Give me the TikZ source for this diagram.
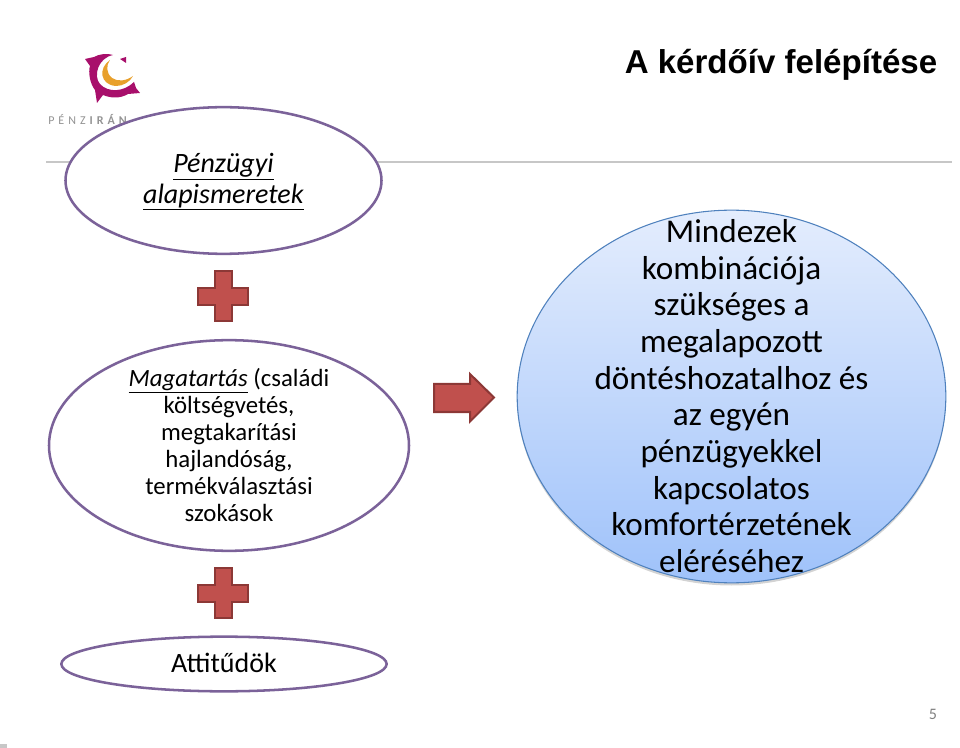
\documentclass[tikz,border=0pt]{standalone}
\usepackage{fontspec}
\setmainfont{Carlito}
\newfontfamily\titlefont{Liberation Sans}
\usetikzlibrary{shapes.geometric, shadows}
\definecolor{ovalline}{HTML}{7B6299}
\definecolor{plusfill}{HTML}{C0504D}
\definecolor{plusline}{HTML}{8C3836}
\definecolor{bigline}{HTML}{4F81BD}
\definecolor{bigtop}{HTML}{E4EDFD}
\definecolor{bigbottom}{HTML}{9FC2FA}
\definecolor{logomag}{HTML}{A80F6B}
\definecolor{logoorg}{HTML}{E8A02C}
\tikzset{
  oval/.style={ellipse, draw=ovalline, line width=1.9pt, fill=white, inner sep=0pt, align=center, text=black},
  redmark/.style={fill=plusfill, draw=plusline, line width=1.5pt, line join=miter}
}
\begin{document}
\begin{tikzpicture}[x=0.75pt,y=-0.75pt]
\useasboundingbox (0,0) rectangle (960,748);

% logo
\fill [logomag] (85,59) -- (94,57) .. controls (99,54) and (107,53) .. (113,55)
  .. controls (98,58) and (93,76) .. (100,84) .. controls (108,93) and (124,92) .. (134,82)
  -- (136,88) -- (140,93) -- (128,94)
  .. controls (120,99) and (110,98) .. (103,95) -- (97,103) -- (95,90)
  .. controls (90,84) and (88,72) .. (90,66) -- cycle;
\fill [logomag] (120,59) -- (126,57) -- (126,63) -- cycle;
\fill [logoorg] (110,60) .. controls (98,68) and (100,85) .. (116,86)
  .. controls (123,86) and (130,82) .. (133,76) .. controls (126,81) and (118,82) .. (112,78)
  .. controls (106,73) and (106,65) .. (110,60) -- cycle;
\node (logotext) at (48,119) [anchor=west, inner sep=0pt, text=gray!85, font=\fontsize{9}{9}\selectfont]
  {P\hspace{3pt}É\hspace{3pt}N\hspace{3pt}Z\hspace{3pt}\textbf{I\hspace{3pt}R\hspace{3pt}Á\hspace{3pt}N}};

% fejlec
\node (title) at (781,65) [font=\titlefont\bfseries\fontsize{24.8}{28}\selectfont] {A kérdőív felépítése};
\draw [line width=2.2pt, color=black!22] (46,162) -- (952,162);

% ovalisok
\node (alap) at (223.5,180.5) [oval, minimum width=237pt, minimum height=110pt] {};
\node (alaptext) at (223.5,182) [align=center, font=\fontsize{21}{23}\selectfont]
  {\underline{\textit{Pénzügyi}}\\\underline{\textit{alapismeretek}}};
\node (magatartas) at (229,445.5) [oval, minimum width=270pt, minimum height=158pt] {};
\node (magatext) at (229,445) [align=center, font=\fontsize{18.6}{20.3}\selectfont]
  {\underline{\textit{Magatartás}} (családi\\költségvetés,\\megtakarítási\\hajlandóság,\\termékválasztási\\szokások};
\node (attitud) at (224,664) [oval, minimum width=244pt, minimum height=41pt] {};
\node (attitext) at (224,663) [font=\fontsize{21}{22}\selectfont] {Attitűdök};

% kereszt jelek
\foreach \py in {296.5,593}
  \draw [redmark, shift={(223,\py)}] (-8.5,-25) -- (8.5,-25) -- (8.5,-8.5) -- (25,-8.5)
    -- (25,8.5) -- (8.5,8.5) -- (8.5,25) -- (-8.5,25) -- (-8.5,8.5) -- (-25,8.5)
    -- (-25,-8.5) -- (-8.5,-8.5) -- cycle;

% nyil
\draw [redmark] (434,384) -- (470,384) -- (470,374) -- (494,397.5) -- (470,421.5)
  -- (470,412) -- (434,412) -- cycle;

% nagy kor
\node (osszes) at (731.5,396.5) [ellipse, draw=bigline, line width=0.8pt, inner sep=0pt,
  minimum width=321.5pt, minimum height=279.5pt, top color=bigtop, bottom color=bigbottom,
  drop shadow={shadow xshift=0pt, shadow yshift=-2pt, opacity=0.35}] {};
\node (osszestext) at (731.5,396) [align=center, font=\fontsize{24.9}{27.5}\selectfont]
  {Mindezek\\kombinációja\\szükséges a\\megalapozott\\döntéshozatalhoz és\\az egyén\\pénzügyekkel\\kapcsolatos\\komfortérzetének\\eléréséhez};

% oldalszam
\node (oldal) at (933,714) [text=gray, font=\fontsize{12}{14}\selectfont] {5};
\fill [black!22] (0,744) rectangle (7,748);
\end{tikzpicture}
\end{document}
